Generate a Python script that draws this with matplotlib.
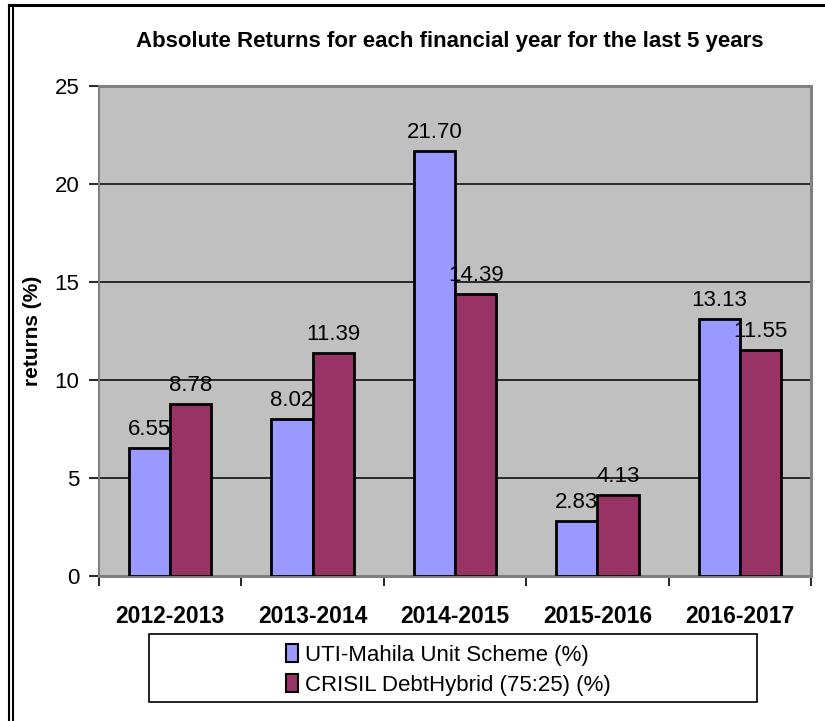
import matplotlib
matplotlib.use("Agg")
import matplotlib.pyplot as plt
from matplotlib.patches import Rectangle, Patch
from matplotlib.lines import Line2D
import numpy as np

categories = ["2012-2013", "2013-2014", "2014-2015", "2015-2016", "2016-2017"]
uti_values = [6.55, 8.02, 21.70, 2.83, 13.13]
crisil_values = [8.78, 11.39, 14.39, 4.13, 11.55]
series_names = ["UTI-Mahila Unit Scheme (%)", "CRISIL DebtHybrid (75:25) (%)"]
title = "Absolute Returns for each financial year for the last 5 years"
ylabel = "returns (%)"
yticks = [0, 5, 10, 15, 20, 25]

W, H = 825, 721
fig = plt.figure(figsize=(W / 100, H / 100), dpi=100)
plt.rcParams['font.family'] = ['Liberation Sans', 'DejaVu Sans']

def fx(px):
    return px / W

def fy(py):
    return 1 - py / H

# outer frame (top line and double left line)
fig.add_artist(Line2D([fx(9), fx(825)], [fy(5), fy(5)], color='black', lw=2.2))
fig.add_artist(Line2D([fx(9), fx(9)], [fy(5), fy(721)], color='black', lw=1.5))
fig.add_artist(Line2D([fx(13), fx(13)], [fy(5), fy(721)], color='black', lw=1.5))

left, right, top, bottom = 99, 811, 86, 576
ax = fig.add_axes([fx(left), fy(bottom), fx(right - left), (bottom - top) / H])
ax.set_facecolor('#C0C0C0')

x = np.arange(len(categories))
bw = 0.29
b1 = ax.bar(x - bw / 2, uti_values, bw, color='#9999FF', edgecolor='black', linewidth=2, zorder=3)
b2 = ax.bar(x + bw / 2, crisil_values, bw, color='#993366', edgecolor='black', linewidth=2, zorder=3)

for bars, vals in ((b1, uti_values), (b2, crisil_values)):
    for r, v in zip(bars, vals):
        ax.annotate(f"{v:.2f}", (r.get_x() + r.get_width() / 2, v), xytext=(0, 5.5),
                    textcoords='offset points', ha='center', va='bottom', fontsize=16, zorder=4)

ax.set_xlim(-0.5, len(categories) - 0.5)
ax.set_ylim(0, 25)
ax.set_yticks(yticks)
ax.set_yticklabels([str(t) for t in yticks], fontsize=16)
ax.yaxis.grid(True, color='black', linewidth=1.1, zorder=1)
ax.set_axisbelow(True)

ax.set_xticks(x)
ax.set_xticklabels(categories, fontsize=16.5, fontweight='bold')
ax.set_xticks(np.arange(-0.5, len(categories)), minor=True)
ax.tick_params(axis='x', which='major', length=0, pad=21)
ax.tick_params(axis='x', which='minor', length=7, width=1.2, color='black', direction='out')
ax.tick_params(axis='y', length=7, width=1.2, color='black', direction='out', pad=7)

for s in ['top', 'right', 'bottom']:
    ax.spines[s].set_color('#808080')
    ax.spines[s].set_linewidth(2.2)
ax.spines['left'].set_color('#808080')
ax.spines['left'].set_linewidth(1.5)

ax.set_ylabel(ylabel, fontsize=15, fontweight='bold')
ax.yaxis.set_label_coords((42 - left) / (right - left), 0.5)

fig.text(fx(450), fy(42), title, ha='center', va='center', fontsize=16, fontweight='bold')

# legend box
fig.add_artist(Rectangle((fx(149), fy(702)), fx(757 - 149), (702 - 634) / H,
                         facecolor='white', edgecolor='black', linewidth=1.2,
                         transform=fig.transFigure))
handles = [Patch(facecolor='#9999FF', edgecolor='black', linewidth=1.5),
           Patch(facecolor='#993366', edgecolor='black', linewidth=1.5)]
fig.legend(handles, series_names, loc='center', bbox_to_anchor=(fx(448), fy(670)),
           frameon=False, fontsize=16, handlelength=0.55, handleheight=0.85,
           handletextpad=0.3, labelspacing=0.4, borderpad=0)

fig.savefig('out.png', dpi=100)
